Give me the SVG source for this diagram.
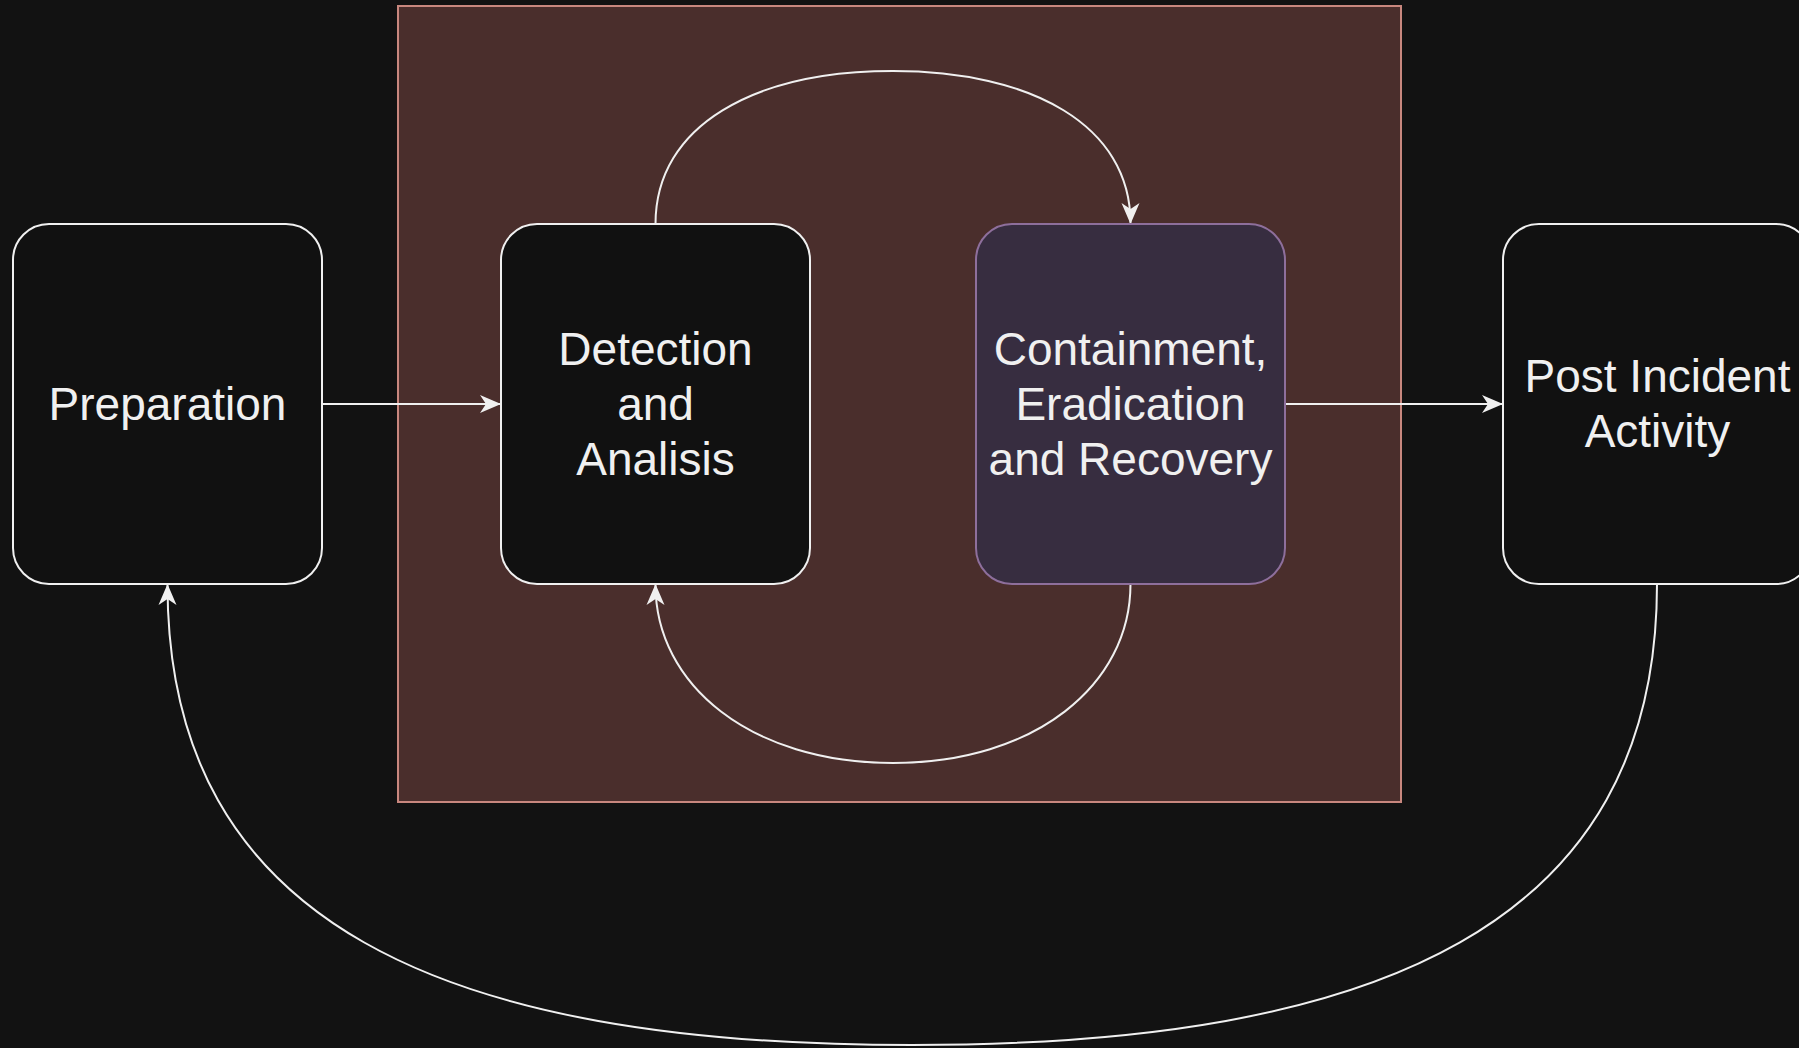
<svg xmlns="http://www.w3.org/2000/svg" width="1799" height="1048" viewBox="0 0 1799 1048">
<style>
.box{fill:#111111;stroke:#f0f0f0;stroke-width:2}
.purple{fill:#372d40;stroke:#8e6f9c;stroke-width:2}
.lbl{font-family:"Liberation Sans",Arial,sans-serif;font-size:46px;fill:#f0f0f0;text-anchor:middle}
.edge{fill:none;stroke:#f0f0f0;stroke-width:2;marker-end:url(#arr)}
</style>
<defs>
<marker id="arr" viewBox="0 0 21 20" refX="20" refY="10" markerWidth="21" markerHeight="20" markerUnits="userSpaceOnUse" orient="auto">
<path d="M0,1 L21,10 L0,19 L6,10 z" fill="#f0f0f0"/>
</marker>
</defs>
<rect width="1799" height="1048" fill="#121212"/>
<g id="container">
<rect x="398" y="6" width="1003" height="796" fill="#4a2e2c" stroke="#c8877e" stroke-width="2"/>
</g>
<g id="connectors">
<path class="edge" d="M322 404 L500 404"/>
<path class="edge" d="M1285 404 L1502 404"/>
<path class="edge" d="M655.5 224 C655.5 125 755 71 893 71 C1031 71 1130.5 125 1130.5 223"/>
<path class="edge" d="M1130.5 584 C1130.5 685 1035 763 893 763 C751 763 655.5 685 655.5 585"/>
<path class="edge" d="M1657 584 C1657 925 1380 1045 912 1045 C444 1045 167.5 925 167.5 585"/>
</g>
<g id="preparation">
<rect class="box" x="13" y="224" width="309" height="360" rx="36"/>
<text class="lbl" x="167.5" y="420">Preparation</text>
</g>
<g id="detection">
<rect class="box" x="501" y="224" width="309" height="360" rx="36"/>
<text class="lbl" x="655.5" y="365">Detection</text>
<text class="lbl" x="655.5" y="420">and</text>
<text class="lbl" x="655.5" y="475">Analisis</text>
</g>
<g id="containment">
<rect class="purple" x="976" y="224" width="309" height="360" rx="36"/>
<text class="lbl" x="1130.5" y="365">Containment,</text>
<text class="lbl" x="1130.5" y="420">Eradication</text>
<text class="lbl" x="1130.5" y="475">and Recovery</text>
</g>
<g id="post">
<rect class="box" x="1503" y="224" width="309" height="360" rx="36"/>
<text class="lbl" x="1657.5" y="392">Post Incident</text>
<text class="lbl" x="1657.5" y="447">Activity</text>
</g>
</svg>
